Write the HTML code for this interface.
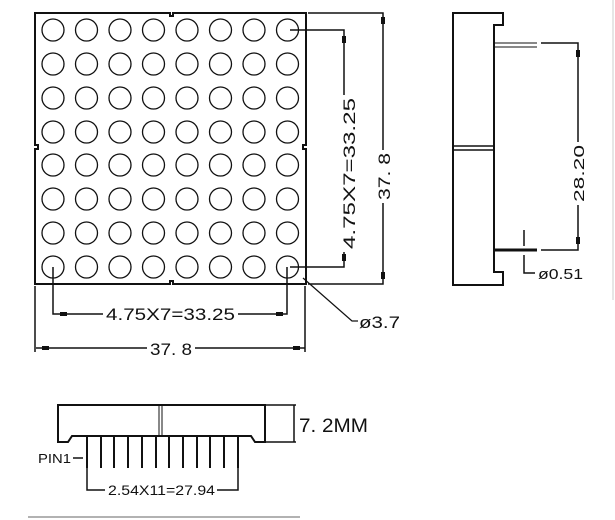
<!DOCTYPE html>
<html><head><style>html,body{margin:0;padding:0;background:#fff}svg{display:block}</style></head>
<body>
<svg width="615" height="520" viewBox="0 0 615 520" xmlns="http://www.w3.org/2000/svg" font-family="Liberation Sans, sans-serif" fill="none" stroke="#111" stroke-width="1.5">
<path d="M35,13 H170 v3 h3 v-3 H306 V145 h-3 v4 h3 V284 H173 v-3 h-3 v3 H35 V149 h3 v-4 h-3 Z" stroke-width="2"/>
<g stroke-width="1.3">
<circle cx="53" cy="30" r="11"/><circle cx="86.5" cy="30" r="11"/><circle cx="120" cy="30" r="11"/><circle cx="153.5" cy="30" r="11"/><circle cx="187" cy="30" r="11"/><circle cx="220.5" cy="30" r="11"/><circle cx="254" cy="30" r="11"/><circle cx="287.5" cy="30" r="11"/>
<circle cx="53" cy="64" r="11"/><circle cx="86.5" cy="64" r="11"/><circle cx="120" cy="64" r="11"/><circle cx="153.5" cy="64" r="11"/><circle cx="187" cy="64" r="11"/><circle cx="220.5" cy="64" r="11"/><circle cx="254" cy="64" r="11"/><circle cx="287.5" cy="64" r="11"/>
<circle cx="53" cy="98" r="11"/><circle cx="86.5" cy="98" r="11"/><circle cx="120" cy="98" r="11"/><circle cx="153.5" cy="98" r="11"/><circle cx="187" cy="98" r="11"/><circle cx="220.5" cy="98" r="11"/><circle cx="254" cy="98" r="11"/><circle cx="287.5" cy="98" r="11"/>
<circle cx="53" cy="132" r="11"/><circle cx="86.5" cy="132" r="11"/><circle cx="120" cy="132" r="11"/><circle cx="153.5" cy="132" r="11"/><circle cx="187" cy="132" r="11"/><circle cx="220.5" cy="132" r="11"/><circle cx="254" cy="132" r="11"/><circle cx="287.5" cy="132" r="11"/>
<circle cx="53" cy="165" r="11"/><circle cx="86.5" cy="165" r="11"/><circle cx="120" cy="165" r="11"/><circle cx="153.5" cy="165" r="11"/><circle cx="187" cy="165" r="11"/><circle cx="220.5" cy="165" r="11"/><circle cx="254" cy="165" r="11"/><circle cx="287.5" cy="165" r="11"/>
<circle cx="53" cy="199" r="11"/><circle cx="86.5" cy="199" r="11"/><circle cx="120" cy="199" r="11"/><circle cx="153.5" cy="199" r="11"/><circle cx="187" cy="199" r="11"/><circle cx="220.5" cy="199" r="11"/><circle cx="254" cy="199" r="11"/><circle cx="287.5" cy="199" r="11"/>
<circle cx="53" cy="233" r="11"/><circle cx="86.5" cy="233" r="11"/><circle cx="120" cy="233" r="11"/><circle cx="153.5" cy="233" r="11"/><circle cx="187" cy="233" r="11"/><circle cx="220.5" cy="233" r="11"/><circle cx="254" cy="233" r="11"/><circle cx="287.5" cy="233" r="11"/>
<circle cx="53" cy="267" r="11"/><circle cx="86.5" cy="267" r="11"/><circle cx="120" cy="267" r="11"/><circle cx="153.5" cy="267" r="11"/><circle cx="187" cy="267" r="11"/><circle cx="220.5" cy="267" r="11"/><circle cx="254" cy="267" r="11"/><circle cx="287.5" cy="267" r="11"/>
</g>
<path d="M308,13 H383 V150 M383,203 V284 H308"/>
<path d="M290,30 H344 V95 M344,252 V267 H290"/>
<path d="M53,267 V314 H103 M238,314 H287 V267"/>
<path d="M35,286 V352 M305,286 V352 M36,348 H147 M195,348 H305"/>
<path d="M303,278 L352,321 H358" stroke-width="1.2"/>
<g fill="#111" stroke="none">
<rect x="381" y="17" width="4" height="7"/><rect x="381" y="272" width="4" height="7"/>
<rect x="342" y="36" width="4" height="7"/><rect x="342" y="254" width="4" height="7"/>
<rect x="60" y="312" width="7" height="4"/><rect x="276" y="312" width="7" height="4"/>
<rect x="42" y="346" width="7" height="4"/><rect x="293" y="346" width="7" height="4"/>
</g>
<g fill="#111" stroke="none" font-size="17">
<text x="106" y="320" textLength="129" lengthAdjust="spacingAndGlyphs">4.75X7=33.25</text>
<text x="150" y="355" textLength="42" lengthAdjust="spacingAndGlyphs">37. 8</text>
<text x="359" y="328" textLength="41" lengthAdjust="spacingAndGlyphs">ø3.7</text>
<text transform="translate(355,249) rotate(-90)" textLength="151" lengthAdjust="spacingAndGlyphs">4.75X7=33.25</text>
<text transform="translate(390,200) rotate(-90)" textLength="47" lengthAdjust="spacingAndGlyphs">37. 8</text>
</g>
<path d="M453,13 H503 V25 H494 V272 H503 V285 H453 Z" stroke-width="2"/>
<path d="M453,146 H494 M453,150 H494"/>
<path d="M494,43 H537 M494,47 H537" stroke-width="1"/>
<path d="M494,250 H537" stroke-width="3"/>
<path d="M541,43 H578 V142 M578,205 V250 H541"/>
<path d="M524,230 V246 M524,255 V273 H535"/>
<g fill="#111" stroke="none">
<rect x="576" y="50" width="4" height="7"/><rect x="576" y="237" width="4" height="7"/>
</g>
<g fill="#111" stroke="none" font-size="15">
<text transform="translate(584,202) rotate(-90)" textLength="57" lengthAdjust="spacingAndGlyphs">28.20</text>
<text x="538" y="279" textLength="45" lengthAdjust="spacingAndGlyphs">ø0.51</text>
</g>
<path d="M58,405 H265 V442 H255 L251,436 H72 L68,442 H58 Z" stroke-width="2"/>
<path d="M159,405 V436 M162,405 V436" stroke-width="1"/>
<path d="M266,405 H296 M266,442 H296 M294,405 V442"/>
<g stroke-width="2">
<path d="M87,436V468M101,436V468M114,436V468M128,436V468M142,436V468M156,436V468M169,436V468M183,436V468M197,436V468M210,436V468M224,436V468M238,436V468"/>
</g>
<path d="M87,468 V490 H105 M217,490 H238 V468 M73,458 H83"/>
<path d="M28,517 H300" stroke="#999"/>
<g fill="#111" stroke="none">
<text x="299" y="432" font-size="19" textLength="69" lengthAdjust="spacingAndGlyphs">7. 2MM</text>
<text x="38" y="463" font-size="13" textLength="33" lengthAdjust="spacingAndGlyphs">PIN1</text>
<text x="108" y="495" font-size="14" textLength="107" lengthAdjust="spacingAndGlyphs">2.54X11=27.94</text>
</g>
<path d="M613,0 V300" stroke="#ccc" stroke-width="1"/>
</svg>
</body></html>
